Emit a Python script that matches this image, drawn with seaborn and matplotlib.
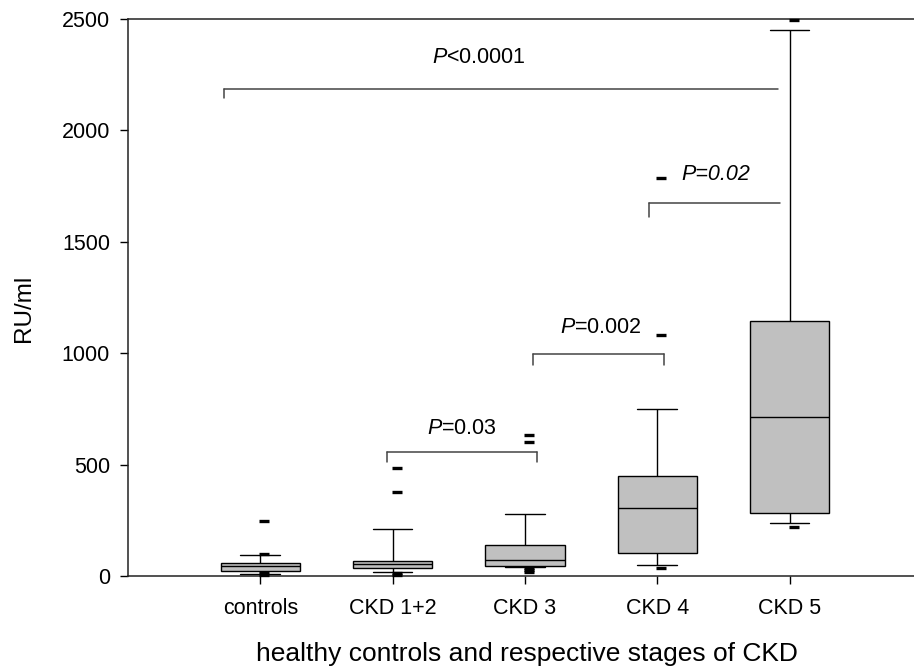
import matplotlib
matplotlib.use("Agg")
import matplotlib.pyplot as plt
import seaborn as sns
import pandas as pd

# ---- data ----
categories = ["controls", "CKD 1+2", "CKD 3", "CKD 4", "CKD 5"]
whisker_low = [10, 19, 40, 51, 238]
q1 = [22, 35, 46, 102, 283]
median = [45, 52, 73, 304, 715]
q3 = [60, 69, 138, 447, 1143]
whisker_high = [96, 212, 280, 751, 2449]
outliers = [
    [247, 100, 12, 5],
    [483, 376, 13, 6],
    [634, 601, 37, 28, 19],
    [1785, 1080, 35],
    [2496, 219],
]
p_labels = ["P<0.0001", "P=0.02", "P=0.002", "P=0.03"]
y_ticks = [0, 500, 1000, 1500, 2000, 2500]

# ---- style ----
sns.set_theme(style="ticks")
plt.rcParams["font.family"] = ["Liberation Sans", "DejaVu Sans"]
plt.rcParams["mathtext.fontset"] = "custom"
plt.rcParams["mathtext.rm"] = "Liberation Sans"
plt.rcParams["mathtext.it"] = "Liberation Sans:italic"
plt.rcParams["text.color"] = "black"
plt.rcParams["axes.labelcolor"] = "black"

# five-number summary per group -> seaborn box (whiskers at min/max)
rows = []
for c, lo, a, m, b, hi in zip(categories, whisker_low, q1, median, q3, whisker_high):
    for v in (lo, a, m, b, hi):
        rows.append({"group": c, "value": v})
box_df = pd.DataFrame(rows)

out_rows = []
for c, vals in zip(categories, outliers):
    for v in vals:
        out_rows.append({"group": c, "value": v})
out_df = pd.DataFrame(out_rows)

fig = plt.figure(figsize=(9.14, 6.70), dpi=100)
ax = fig.add_axes([128 / 914, 94 / 670, 786 / 914, 557 / 670])

sns.boxplot(data=box_df, x="group", y="value", order=categories, whis=(0, 100),
            showfliers=False, color="#C0C0C0", linecolor="black", linewidth=1.0,
            width=0.6, ax=ax)

# outliers drawn as short thick dashes, slightly right of centre
pos = {c: i for i, c in enumerate(categories)}
out_df["xpos"] = out_df["group"].map(pos) + 0.03
sns.scatterplot(data=out_df, x="xpos", y="value", marker="_", s=55,
                linewidth=2.4, color="black", ax=ax, legend=False, clip_on=False,
                zorder=5)

ax.set_xlim(-1, 4.94)
ax.set_ylim(0, 2500)
ax.set_yticks(y_ticks)
ax.set_xticks(range(len(categories)))
ax.set_xticklabels(categories)
ax.set_xlabel("")
ax.set_ylabel("")

ax.spines["right"].set_visible(False)
for side in ("left", "bottom", "top"):
    ax.spines[side].set_color("#222222")
    ax.spines[side].set_linewidth(1.1)

ax.tick_params(axis="y", direction="out", length=6, width=1, pad=7,
               labelsize=15.5, colors="black")
ax.tick_params(axis="x", direction="out", length=6, width=1, pad=10,
               labelsize=15.5, colors="black")
ax.tick_params(top=False)

ax.set_xlabel("healthy controls and respective stages of CKD", fontsize=19)
ax.xaxis.label.set_va("center")
ax.xaxis.set_label_coords(0.5076, -0.140)
ax.set_ylabel("RU/ml", fontsize=17.5)
ax.yaxis.label.set_va("center")
ax.yaxis.set_label_coords(-0.132, 0.481)

# ---- significance brackets ----
bc = "#444444"
def bracket(x0, x1, y, drop, left_tick=True, right_tick=True):
    ax.plot([x0, x1], [y, y], color=bc, lw=1.1)
    if left_tick:
        ax.plot([x0, x0], [y, y - drop], color=bc, lw=1.1)
    if right_tick:
        ax.plot([x1, x1], [y, y - drop], color=bc, lw=1.1)

bracket(-0.274, 3.915, 2187, 43, right_tick=False)
bracket(2.936, 3.928, 1673, 63, right_tick=False)
bracket(2.064, 3.051, 996, 49)
bracket(0.955, 2.094, 558, 45)

fs = 15.5
ax.text(1.649, 2301, r"$\mathit{P}$" + p_labels[0][1:], ha="center", va="baseline", fontsize=fs)
ax.text(3.444, 1777, p_labels[1], ha="center", va="baseline", fontsize=fs, fontstyle="italic")
ax.text(2.575, 1089, r"$\mathit{P}$" + p_labels[2][1:], ha="center", va="baseline", fontsize=fs)
ax.text(1.525, 636, r"$\mathit{P}$" + p_labels[3][1:], ha="center", va="baseline", fontsize=fs)

fig.savefig("out.png", dpi=100)
